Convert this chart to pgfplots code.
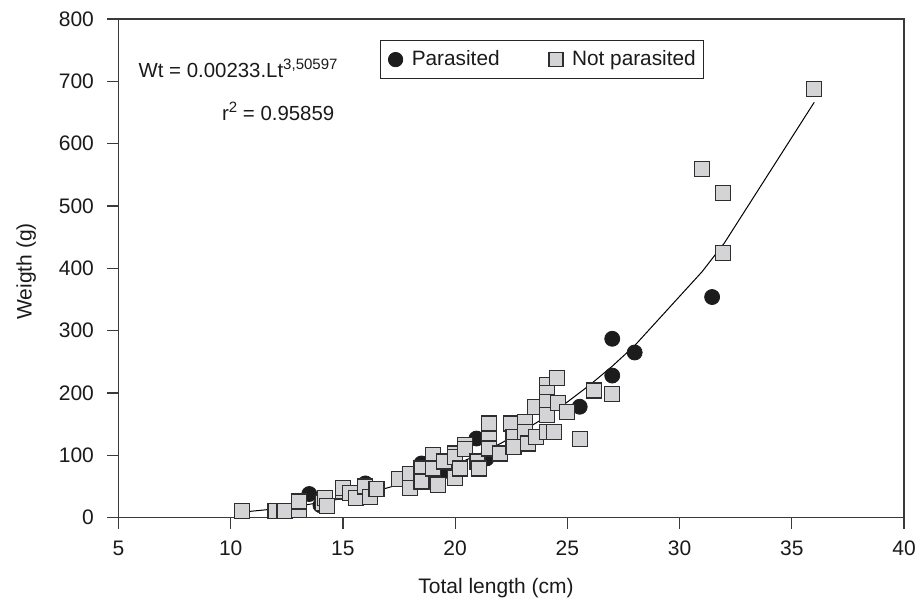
\documentclass[border=0pt]{standalone}
\usepackage{fontspec}
\setmainfont{Liberation Sans}
\usepackage{pgfplots}
\usepackage{pgfplotstable}
\pgfplotsset{compat=1.18}
\definecolor{sqfill}{HTML}{D4D4D6}
\definecolor{sqdraw}{HTML}{2E2E2E}
\definecolor{dotc}{HTML}{1C1C1C}
\definecolor{axc}{HTML}{3A3A3A}
\definecolor{txt}{HTML}{1A1A1A}
\pgfplotsset{legmark/.style={legend image code/.code={\draw[##1, mark size=#1] plot coordinates {(0pt,0pt)};}}}
\pgfplotstableread{
x y
10.5 11
12.0 11
12.4 11
13.05 12
13.05 26
14.1 23
14.2 32
14.3 19
15.0 42
15.0 48
15.3 39
15.6 31
16.0 50
16.2 33
16.5 46
17.5 62
18.0 70
18.0 47
18.5 79
18.5 58
19.0 100
19.0 79
19.25 52
19.5 90
20.0 103
20.0 97
20.0 64
20.2 79
20.45 117
20.45 110
21.0 90
21.05 79
21.5 151
21.5 127
21.5 111
22.0 103
22.5 151
22.6 130
22.6 114
23.1 154
23.1 138
23.25 119
23.55 178
23.6 130
24.1 213
24.1 200
24.1 186
24.1 165
24.1 138
24.4 138
24.55 224
24.6 184
25.0 170
25.55 126
26.2 204
27.0 198
31.0 560
31.95 521
31.95 425
36.0 688
}\notpartable
\pgfplotstableread{
x y
13.5 38
14.0 20
16.0 55
18.5 87
19.45 74
20.95 127
21.4 95
25.55 178
27.0 287
27.0 228
28.0 265
31.45 354
}\partable
\pgfplotstableread{
x y
10.5 8.9
12 14.2
13 18.7
14 24.3
15 31.0
16 38.8
17 48.0
18 58.7
19 70.9
20 84.9
21 100.7
22 118.6
23 138.5
24 160.8
25 185.6
26 212.9
27 243.0
28 276.1
31 394.5
32 440.9
36 666.4
}\fitline
\begin{document}
\begin{tikzpicture}
\begin{axis}[
 at={(0,0)}, anchor=south west,
 scale only axis, width=392.75pt, height=249.35pt,
 xmin=5, xmax=40, ymin=0, ymax=800,
 xtick={5,10,...,40}, ytick={0,100,...,800},
 tick pos=left, tick align=outside, major tick length=5.5pt,
 axis line style={axc, line width=0.6pt},
 every tick/.style={axc, line width=0.6pt},
 /pgf/number format/assume math mode=true,
 ticklabel style={font=\fontsize{10.5}{12}\selectfont, text=txt, inner sep=0pt},
 xticklabel style={anchor=north, yshift=-6pt},
 yticklabel style={anchor=east, xshift=-6.6pt},
 xlabel={Total length (cm)}, ylabel={Weigth (g)},
 label style={font=\fontsize{10.5}{12}\selectfont, text=txt, inner sep=0pt},
 xlabel style={at={(axis description cs:0.4806,-0.153)}, anchor=base},
 ylabel style={at={(axis description cs:-0.1105,0.4937)}, anchor=base},
 legend columns=2,
 legend style={at={(rel axis cs:0.3329,0.958)}, anchor=north west,
   draw=black!85, line width=0.6pt, inner xsep=3.9pt, inner ysep=5pt,
   font=\fontsize{10.4}{12}\selectfont, text=txt,
   nodes={inner sep=0pt},
   /tikz/every odd column/.append style={column sep=4.5pt},
   /tikz/every even column/.append style={column sep=24.7pt}},
 clip=false,
]
\addplot[black, line width=0.5pt, forget plot] table[x=x,y=y] {\fitline};
\addplot[only marks, mark=*, mark size=3.75pt, mark options={fill=dotc, draw=dotc, line width=0.4pt},
  legmark=3.6pt]
  table[x=x,y=y] {\partable};
\addlegendentry{Parasited}
\addplot[only marks, mark=square*, mark size=3.75pt, mark options={fill=sqfill, draw=sqdraw, line width=0.6pt},
  legmark=3.5pt]
  table[x=x,y=y] {\notpartable};
\addlegendentry{Not parasited}
\node[anchor=base west, inner sep=0pt, font=\fontsize{10.2}{12}\selectfont, text=txt] at (axis cs:5.88,705.8)
  {Wt = 0.00233.Lt\raisebox{4.2pt}{\fontsize{7.5}{8}\selectfont 3,50597}};
\node[anchor=base west, inner sep=0pt, font=\fontsize{10.2}{12}\selectfont, text=txt] at (axis cs:9.6,636.8)
  {r\raisebox{4.2pt}{\fontsize{7.5}{8}\selectfont 2} = 0.95859};
\end{axis}
\pgfresetboundingbox
\path[use as bounding box] (-59.25pt,-42.65pt) rectangle (400.75pt,258.85pt);
\end{tikzpicture}
\end{document}
